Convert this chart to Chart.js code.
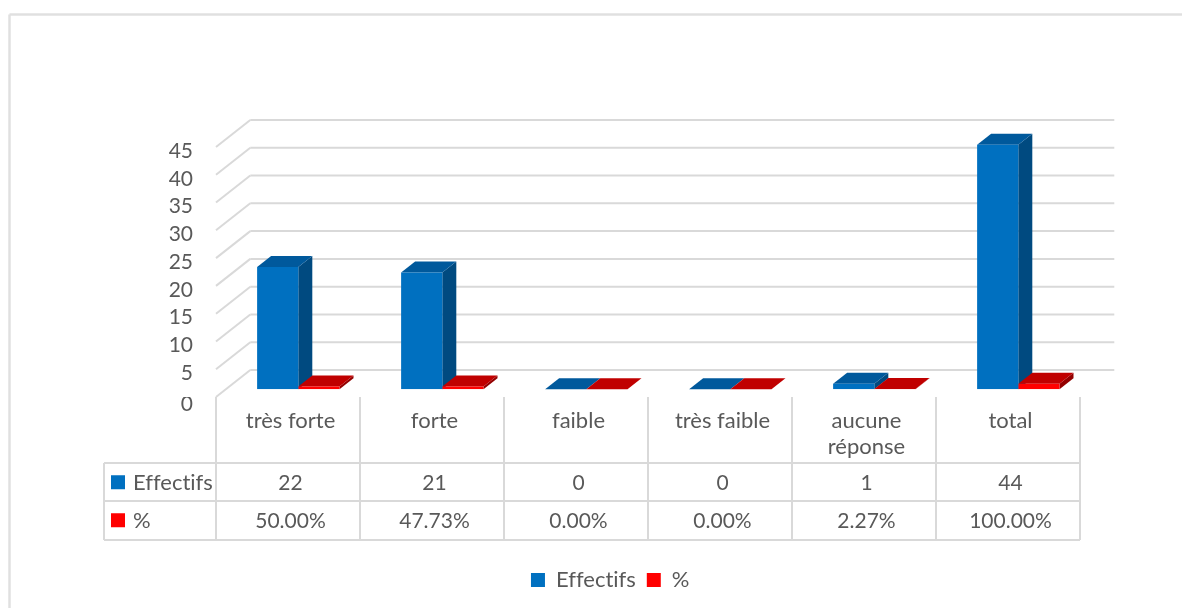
<!DOCTYPE html>
<html>
<head>
<meta charset="utf-8">
<style>
  html, body { margin: 0; padding: 0; background: #fff; }
  canvas { display: block; }
</style>
<script src="https://cdn.jsdelivr.net/npm/chart.js@4/dist/chart.umd.min.js"></script>
</head>
<body>
<canvas id="chart3d" width="1182" height="608"></canvas>
<script>
// données
const categories = ['très forte', 'forte', 'faible', 'très faible', ['aucune', 'réponse'], 'total'];
const effectifs = [22, 21, 0, 0, 1, 44];
const pourcentages = [0.5, 0.4773, 0, 0, 0.0227, 1];
const yTicks = [0, 5, 10, 15, 20, 25, 30, 35, 40, 45];

const FONT = 'Lato, Carlito, sans-serif';
const FONT_SIZE = 22;
const NUM_SIZE = 21; // les chiffres de Lato sont plus larges
const TEXT_COLOR = '#595959';
const LINE_COLOR = '#d9d9d9';

// profondeur de la perspective 3D
const WALL = { dx: 34.3, dy: -27 };
const BAR_SHIFT = { dx: 10.3, dy: -7.8 };
const BAR_DEPTH = { dx: 14, dy: -11 };
const LEGEND_SHIFT = 54;

const faces = [
    { front: '#0070c0', side: '#004a80', top: '#00599c' },
    { front: '#ff0000', side: '#930000', top: '#c00000' }
];

function poly(ctx, pts, color) {
    ctx.fillStyle = color;
    ctx.beginPath();
    pts.forEach((p, i) => i ? ctx.lineTo(p[0], p[1]) : ctx.moveTo(p[0], p[1]));
    ctx.closePath();
    ctx.fill();
}

function line(ctx, x1, y1, x2, y2) {
    ctx.beginPath();
    ctx.moveTo(x1, y1);
    ctx.lineTo(x2, y2);
    ctx.stroke();
}

// cadre, mur du fond, faces laterales des barres
const wallPlugin = {
    id: 'wall',
    afterLayout(chart) {
        // legende centree sur le cadre et non sur la zone du graphique
        chart.legend.left += LEGEND_SHIFT;
        chart.legend.right += LEGEND_SHIFT;
    },
    beforeDraw(chart) {
        chart.ctx.textRendering = 'optimizeSpeed'; // pas de ligature "ti"
    },
    beforeDatasetsDraw(chart) {
        const { ctx, chartArea, scales } = chart;
        ctx.save();
        ctx.strokeStyle = '#e0e0e0';
        ctx.lineWidth = 2.5;
        line(ctx, 9.5, 608, 9.5, 14.5);
        line(ctx, 9.5, 14.5, 1182, 14.5);

        ctx.strokeStyle = LINE_COLOR;
        ctx.lineWidth = 2;
        yTicks.forEach(v => {
            const y = scales.y.getPixelForValue(v);
            line(ctx, chartArea.left, y, chartArea.left + WALL.dx, y + WALL.dy);
            line(ctx, chartArea.left + WALL.dx, y + WALL.dy, chartArea.right + WALL.dx, y + WALL.dy);
        });

        // bleu d'abord : le rouge passe devant le flanc bleu
        ctx.translate(BAR_SHIFT.dx, BAR_SHIFT.dy);
        faces.forEach((c, i) => {
            chart.getDatasetMeta(i).data.forEach(bar => {
                const { x, y, base, width } = bar.getProps(['x', 'y', 'base', 'width'], true);
                const l = x - width / 2, r = x + width / 2;
                poly(ctx, [[r, y], [r + BAR_DEPTH.dx, y + BAR_DEPTH.dy], [r + BAR_DEPTH.dx, base + BAR_DEPTH.dy], [r, base]], c.side);
                poly(ctx, [[l, y], [l + BAR_DEPTH.dx, y + BAR_DEPTH.dy], [r + BAR_DEPTH.dx, y + BAR_DEPTH.dy], [r, y]], c.top);
            });
        });
        ctx.restore();
    },
    // la face avant native, decalee comme le reste
    beforeDatasetDraw(chart) {
        chart.ctx.save();
        chart.ctx.translate(BAR_SHIFT.dx, BAR_SHIFT.dy);
    },
    afterDatasetDraw(chart) {
        chart.ctx.restore();
    },
    afterDraw(chart) {
        const { ctx, chartArea, scales } = chart;
        const half = (scales.x.getPixelForValue(1) - scales.x.getPixelForValue(0)) / 2;
        const rows = [
            { y: 463, label: 'Effectifs', color: faces[0].front, text: effectifs.map(String) },
            { y: 501, label: '%', color: faces[1].front, text: pourcentages.map(p => (p * 100).toFixed(2) + '%') }
        ];
        const tableLeft = 104, rowH = 38.5;

        ctx.save();
        ctx.strokeStyle = LINE_COLOR;
        ctx.lineWidth = 2;
        line(ctx, tableLeft, 463, tableLeft, 540);
        line(ctx, tableLeft, 463, chartArea.right, 463);
        line(ctx, tableLeft, 501, chartArea.right, 501);
        line(ctx, tableLeft, 540, chartArea.right, 540);
        for (let i = 0; i <= categories.length; i++) {
            const x = chartArea.left + i * half * 2;
            line(ctx, x, chartArea.bottom, x, 540);
        }

        ctx.textBaseline = 'middle';
        rows.forEach(row => {
            const cy = row.y + rowH / 2 + 1;
            ctx.fillStyle = row.color;
            ctx.fillRect(111, cy - 8, 14, 14);
            ctx.fillStyle = TEXT_COLOR;
            ctx.font = FONT_SIZE + 'px ' + FONT;
            ctx.textAlign = 'left';
            ctx.fillText(row.label, 133, cy);
            ctx.font = NUM_SIZE + 'px ' + FONT;
            ctx.textAlign = 'center';
            row.text.forEach((t, i) => ctx.fillText(t, scales.x.getPixelForValue(i) + 2.5, cy));
        });

        // le 0 de l'axe est coupe en haut par le tableau
        ctx.beginPath();
        ctx.rect(170, 397, 40, 20);
        ctx.clip();
        ctx.textAlign = 'right';
        ctx.fillText('0', 193, 404.5);
        ctx.restore();
    }
};

const PAD_BOTTOM = 7;

new Chart(document.getElementById('chart3d').getContext('2d'), {
    type: 'bar',
    data: {
        labels: categories,
        datasets: [
            { label: 'Effectifs', data: effectifs, backgroundColor: faces[0].front },
            { label: '%', data: pourcentages, backgroundColor: faces[1].front }
        ]
    },
    options: {
        responsive: false,
        animation: false,
        categoryPercentage: 0.572,
        barPercentage: 1,
        layout: { padding: { left: 32, right: 102, top: 147, bottom: PAD_BOTTOM } },
        scales: {
            x: {
                grid: { display: false, drawTicks: false },
                border: { display: false },
                ticks: {
                    color: TEXT_COLOR,
                    font: { family: FONT, size: FONT_SIZE, lineHeight: 1.22 },
                    padding: 10,
                    labelOffset: 2.5,
                    autoSkip: false,
                    maxRotation: 0
                },
                afterFit(scale) {
                    scale.height = 608 - 397 - scale.chart.legend.height - PAD_BOTTOM;
                }
            },
            y: {
                min: 0,
                max: 45,
                grid: { display: false, drawTicks: false },
                border: { display: false },
                ticks: {
                    stepSize: 5,
                    autoSkip: false,
                    color: TEXT_COLOR,
                    font: { family: FONT, size: NUM_SIZE },
                    padding: 23,
                    labelOffset: 4,
                    callback: v => (v === 0 ? '' : v)
                },
                afterFit(scale) {
                    scale.width = 184;
                }
            }
        },
        plugins: {
            tooltip: { enabled: false },
            legend: {
                position: 'bottom',
                labels: {
                    boxWidth: 14,
                    boxHeight: 14,
                    padding: 11,
                    color: TEXT_COLOR,
                    font: { family: FONT, size: FONT_SIZE }
                }
            }
        }
    },
    plugins: [wallPlugin]
});
</script>
</body>
</html>
